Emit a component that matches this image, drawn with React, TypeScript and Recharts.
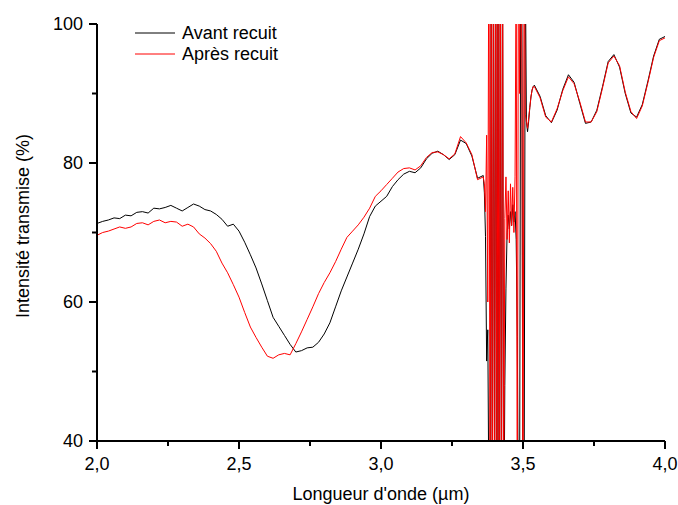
import { LineChart, Line, XAxis, YAxis, Legend } from 'recharts';

// wavelength (µm), three stretches: smooth part, noisy C-H band, fringes
const lambdaLow = [
  2.0, 2.02, 2.04, 2.06, 2.08, 2.1, 2.12, 2.14, 2.16, 2.18, 2.2, 2.22, 2.24, 2.26, 2.28, 2.3, 2.32, 2.34,
  2.36, 2.38, 2.4, 2.42, 2.44, 2.46, 2.48, 2.5, 2.52, 2.54, 2.56, 2.58, 2.6, 2.62, 2.64, 2.66, 2.68, 2.7,
  2.72, 2.74, 2.76, 2.78, 2.8, 2.82, 2.84, 2.86, 2.88, 2.9, 2.92, 2.94, 2.96, 2.98, 3.0, 3.02, 3.04, 3.06,
  3.08, 3.1, 3.12, 3.14, 3.16, 3.18, 3.2, 3.22, 3.24, 3.26, 3.28, 3.3, 3.32, 3.34, 3.36,
];
const lambdaBand = [
  3.364, 3.368, 3.372, 3.376, 3.38, 3.384, 3.388, 3.392, 3.396, 3.4, 3.404, 3.408, 3.412, 3.416, 3.42,
  3.424, 3.428, 3.432, 3.436, 3.44, 3.444, 3.448, 3.452, 3.456, 3.46, 3.464, 3.468, 3.472, 3.476, 3.48,
  3.484, 3.488, 3.492, 3.496, 3.5, 3.504, 3.508, 3.512, 3.516, 3.52, 3.524, 3.528, 3.532, 3.536,
];
const lambdaHigh = [
  3.54, 3.56, 3.58, 3.6, 3.62, 3.64, 3.66, 3.68, 3.7, 3.72, 3.74, 3.76, 3.78, 3.8, 3.82, 3.84, 3.86, 3.88,
  3.9, 3.92, 3.94, 3.96, 3.98, 4.0,
];

// Avant recuit (%)
const avantLow = [
  71.3, 71.6, 71.8, 72.1, 72.0, 72.5, 72.4, 72.9, 73.0, 72.8, 73.5, 73.4, 73.6, 73.9, 73.5, 73.1, 73.6, 74.1,
  73.8, 73.3, 73.1, 72.6, 71.9, 70.9, 71.2, 70.2, 68.6, 66.8, 64.9, 62.6, 60.2, 57.8, 56.5, 55.2, 53.9, 52.8,
  53.0, 53.4, 53.5, 54.2, 55.4, 57.0, 59.3, 61.6, 63.6, 65.6, 67.6, 69.8, 72.3, 73.8, 74.5, 75.2, 76.6, 77.6,
  78.4, 78.8, 78.6, 79.3, 80.6, 81.4, 81.7, 81.2, 80.5, 81.2, 83.3, 82.8, 81.0, 77.8, 78.2,
];
const avantBand = [
  75.7, 69.4, 51.5, 56.0, 30, 15, 110, 25, 115, 30, 120, 20, 110, 25, 105,
  30, 115, 20, 48, 62, 70, 72.5, 70.5, 73, 71, 74, 71.5, 73, 69, 55,
  25, 30, 110, 105, 20, 30, 110, 86, 84.5, 86, 88, 89.5, 90.5, 91,
];
const avantHigh = [
  91.2, 89.6, 86.8, 85.8, 87.6, 90.6, 92.7, 91.6, 88.6, 85.7, 85.9, 87.6, 91.0, 94.6, 95.6, 93.8, 90.0, 87.2,
  86.6, 88.4, 91.8, 95.4, 97.8, 98.2,
];

// Après recuit (%)
const apresLow = [
  69.6, 70.0, 70.2, 70.5, 70.8, 70.6, 70.8, 71.3, 71.4, 71.1, 71.6, 71.8, 71.4, 71.6, 71.5, 70.9, 71.2, 70.8,
  69.8, 69.2, 68.4, 67.3, 65.6, 64.2, 62.5, 60.7, 58.5, 56.4, 54.9, 53.5, 52.2, 51.9, 52.4, 52.6, 52.4, 54.0,
  55.7, 57.5, 59.3, 61.2, 62.8, 64.2, 65.8, 67.6, 69.3, 70.2, 71.1, 72.2, 73.5, 75.2, 76.0, 76.9, 77.8, 78.7,
  79.2, 79.3, 79.0, 79.6, 80.8, 81.5, 81.6, 81.2, 80.6, 81.3, 83.8, 82.9, 81.2, 77.6, 78.0,
];
const apresBand = [
  77.0, 73.0, 84.0, 60.0, 120, 20, 115, 25, 120, 15, 125, 20, 110, 25, 120,
  20, 115, 30, 72, 78, 69, 76, 68.5, 77, 71, 76.5, 70, 78, 110, 20,
  120, 90, 115, 95, 20, 120, 87, 86, 85, 86.5, 88, 89.5, 90.5, 91,
];
const apresHigh = [
  91.0, 89.4, 86.6, 85.9, 87.8, 90.4, 92.4, 91.4, 88.8, 85.9, 85.9, 87.4, 90.8, 94.4, 95.4, 94.0, 90.2, 87.4,
  86.4, 88.2, 91.6, 95.2, 97.6, 98.0,
];

const xTicks = [2, 2.25, 2.5, 2.75, 3, 3.25, 3.5, 3.75, 4];
const yTicks = [40, 50, 60, 70, 80, 90, 100];
const seriesNames = ['Avant recuit', 'Après recuit'];

const lambda = [...lambdaLow, ...lambdaBand, ...lambdaHigh];
const avant = [...avantLow, ...avantBand, ...avantHigh];
const apres = [...apresLow, ...apresBand, ...apresHigh];
const data = lambda.map((w, i) => ({ w, avant: avant[i], apres: apres[i] }));

const FONT = '"Liberation Sans", Arial, sans-serif';

function XTick(props: any) {
  const { x, y, payload } = props;
  const v = payload.value;
  const major = Math.abs(v * 2 - Math.round(v * 2)) < 1e-6;
  return (
    <g>
      <line x1={x} x2={x} y1={y - 8} y2={major ? y : y - 3} stroke="#000" strokeWidth={2} />
      {major && (
        <text x={x} y={y + 21} textAnchor="middle" fontSize={18} fontFamily={FONT} fill="#000">
          {v.toFixed(1).replace('.', ',')}
        </text>
      )}
    </g>
  );
}

function YTick(props: any) {
  const { x, y, payload } = props;
  const v = payload.value;
  const major = v % 20 === 0;
  return (
    <g>
      <line x1={major ? x : x + 3} x2={x + 8} y1={y} y2={y} stroke="#000" strokeWidth={2} />
      {major && (
        <text x={x - 6} y={y + 6} textAnchor="end" fontSize={18} fontFamily={FONT} fill="#000">
          {v}
        </text>
      )}
    </g>
  );
}

function LegendBox(props: any) {
  const items = props.payload || [];
  const colorOf = (name: string) => (items.find((it: any) => it.value === name) || {}).color;
  return (
    <svg width={200} height={50}>
      {seriesNames.map((name, i) => (
        <g key={name}>
          <line x1={5} x2={45} y1={13 + i * 21} y2={13 + i * 21} stroke={colorOf(name)} strokeWidth={1} />
          <text x={52} y={19 + i * 21} fontSize={18} fontFamily={FONT} fill="#000">
            {name}
          </text>
        </g>
      ))}
    </svg>
  );
}

export default function App() {
  return (
    <div style={{ position: 'absolute', left: 0, top: 0, background: '#fff' }}>
      <LineChart width={678} height={505} data={data} margin={{ top: 24, right: 13, left: 0, bottom: 0 }}>
        <XAxis
          dataKey="w"
          type="number"
          domain={[2, 4]}
          allowDataOverflow
          ticks={xTicks}
          interval={0}
          tickSize={8}
          tickMargin={0}
          tickLine={false}
          tick={<XTick />}
          height={64}
          axisLine={{ stroke: '#000', strokeWidth: 2 }}
          label={{
            content: () => (
              <text x={381} y={500} textAnchor="middle" fontSize={18} fontFamily={FONT} fill="#000">
                Longueur d'onde (µm)
              </text>
            ),
          }}
        />
        <YAxis
          type="number"
          domain={[40, 100]}
          allowDataOverflow
          ticks={yTicks}
          interval={0}
          tickSize={8}
          tickMargin={0}
          tickLine={false}
          tick={<YTick />}
          width={97}
          axisLine={{ stroke: '#000', strokeWidth: 2 }}
          label={{
            content: () => (
              <text
                x={29}
                y={226}
                transform="rotate(-90 29 226)"
                textAnchor="middle"
                fontSize={18}
                fontFamily={FONT}
                fill="#000"
              >
                Intensité transmise (%)
              </text>
            ),
          }}
        />
        <Legend
          verticalAlign="middle"
          layout="horizontal"
          content={<LegendBox />}
          wrapperStyle={{ left: 130, top: 20, width: 200, height: 50 }}
        />
        <Line
          dataKey="avant"
          name="Avant recuit"
          type="linear"
          stroke="#000000"
          strokeWidth={1}
          dot={false}
          isAnimationActive={false}
        />
        <Line
          dataKey="apres"
          name="Après recuit"
          type="linear"
          stroke="#ff0000"
          strokeWidth={1}
          dot={false}
          isAnimationActive={false}
        />
      </LineChart>
    </div>
  );
}
